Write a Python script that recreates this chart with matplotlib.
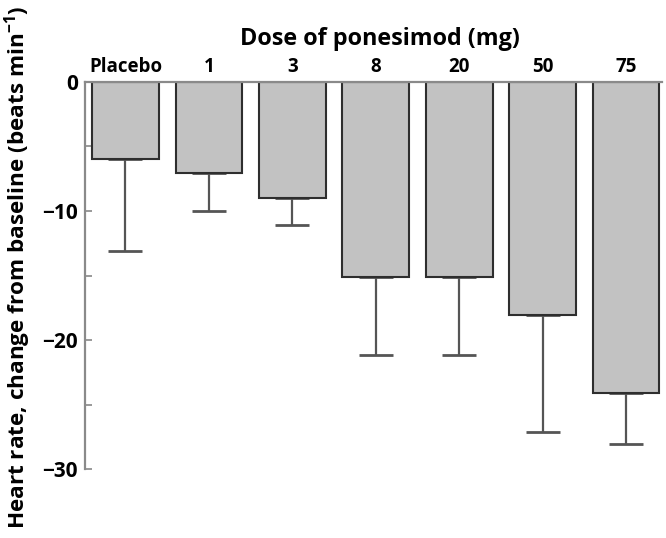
import numpy as np
import matplotlib
matplotlib.use('Agg')
import matplotlib.pyplot as plt
from matplotlib.ticker import MultipleLocator

plt.rcParams['font.family'] = ['Open Sans', 'DejaVu Sans']
plt.rcParams['font.weight'] = 'bold'
plt.rcParams['mathtext.fontset'] = 'custom'
plt.rcParams['mathtext.rm'] = 'Open Sans:bold'
plt.rcParams['mathtext.bf'] = 'Open Sans:bold'

# dose groups and heart rate change (mean, lower end of error bar)
doses = ['Placebo', '1', '3', '8', '20', '50', '75']
hr_change = [-6.0, -7.05, -9.0, -15.1, -15.1, -18.1, -24.1]
err_low = [-13.1, -10.0, -11.1, -21.2, -21.2, -27.1, -28.1]

x = np.arange(len(doses))
yerr_down = np.array(hr_change) - np.array(err_low)
yerr = [yerr_down, np.zeros(len(doses))]

fig = plt.figure(figsize=(6.66, 5.38), dpi=100)
ax = fig.add_axes([85 / 666, 1 - 469 / 538, 577 / 666, (469 - 82) / 538])

ax.bar(x, hr_change, width=0.8, color='#c2c2c2', edgecolor='#2e2e2e', linewidth=1.5, zorder=2)
ax.errorbar(x, hr_change, yerr=yerr, fmt='none', ecolor='#555555', elinewidth=1.6,
            capsize=12, capthick=2, zorder=1)

ax.set_xlim(-0.485, 6.43)
ax.set_ylim(-30, 0)
ax.yaxis.set_minor_locator(MultipleLocator(5))
ax.set_yticks([0, -10, -20, -30])
ax.set_yticklabels(['0', '\u221210', '\u221220', '\u221230'])
ax.tick_params(axis='y', which='both', direction='in', length=5, width=1.2,
               color='#888888', labelsize=15, pad=5)

ax.xaxis.tick_top()
ax.xaxis.set_label_position('top')
ax.set_xticks(x)
ax.set_xticklabels(doses)
ax.tick_params(axis='x', length=0, labelsize=13.5, pad=3.5)
ax.set_xlabel('Dose of ponesimod (mg)', fontsize=16.8, fontweight='bold')
ax.xaxis.set_label_coords(0.511, 1.095)
ax.set_ylabel('Heart rate, change from baseline (beats min$^{-1}$)', fontsize=16.2,
              fontweight='bold')
ax.yaxis.set_label_coords(-0.09, 0.52)

for s in ['right', 'bottom']:
    ax.spines[s].set_visible(False)
for s in ['left', 'top']:
    ax.spines[s].set_color('#8a8a8a')
    ax.spines[s].set_linewidth(1.6)

fig.savefig('out.png', dpi=100)
